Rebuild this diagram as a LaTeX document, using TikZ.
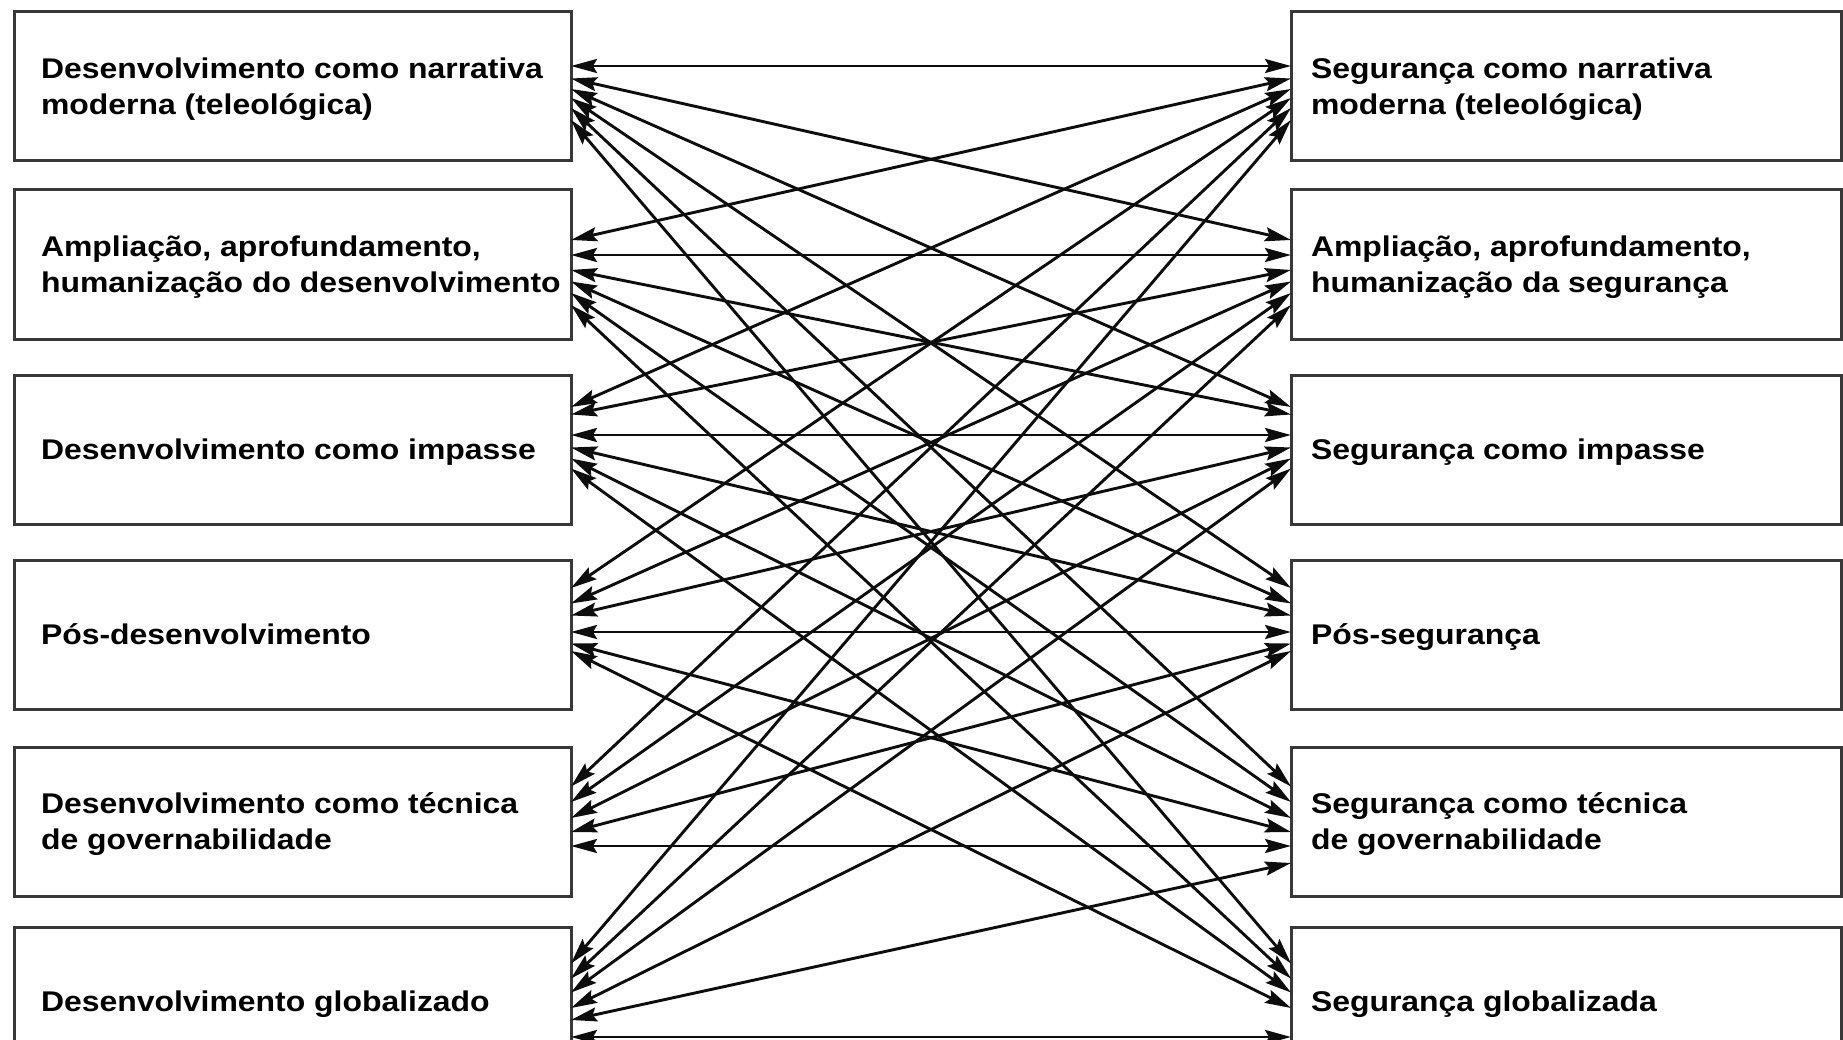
\documentclass[tikz,border=0pt]{standalone}
\usepackage{fontspec}
\setmainfont{Liberation Sans}
\usetikzlibrary{arrows.meta}
\newcommand{\boxtxt}[1]{\raisebox{-3pt}[\height][\depth]{\scalebox{1.12}[1]{\begin{tabular}{@{}l@{}}#1\end{tabular}}}}
\newcommand{\lt}[1]{\makebox[503pt][l]{\boxtxt{#1}}}
\newcommand{\rt}[1]{\makebox[510pt][l]{\boxtxt{#1}}}
\begin{document}
\begin{tikzpicture}[x=1pt,y=-1pt,
  boxbase/.style={draw=black!78, line width=3pt, rectangle, outer sep=0pt, inner ysep=0pt,
    minimum height=149pt, anchor=north west, font=\fontsize{28.5}{36}\selectfont\bfseries},
  lbox/.style={boxbase, inner xsep=27pt, minimum width=557pt},
  rbox/.style={boxbase, inner xsep=20pt, minimum width=550pt},
  conn/.style={line width=2.9pt, black!95,
    {Stealth[length=26pt,width=14pt,inset=4pt]}-{Stealth[length=26pt,width=14pt,inset=4pt]}}]
\useasboundingbox (0,0) rectangle (1843,1040);
\clip (0,0) rectangle (1843,1040);
% left column
\node[lbox] (L1) at (14,12)  {\lt{Desenvolvimento como narrativa\\moderna (teleológica)}};
\node[lbox] (L2) at (14,190) {\lt{Ampliação, aprofundamento,\\humanização do desenvolvimento}};
\node[lbox] (L3) at (14,375) {\lt{Desenvolvimento como impasse}};
\node[lbox] (L4) at (14,560) {\lt{Pós-desenvolvimento}};
\node[lbox] (L5) at (14,747) {\lt{Desenvolvimento como técnica\\de governabilidade}};
\node[lbox] (L6) at (14,927) {\lt{Desenvolvimento globalizado}};
% right column
\node[rbox] (R1) at (1291,12)  {\rt{Segurança como narrativa\\moderna (teleológica)}};
\node[rbox] (R2) at (1291,190) {\rt{Ampliação, aprofundamento,\\humanização da segurança}};
\node[rbox] (R3) at (1291,375) {\rt{Segurança como impasse}};
\node[rbox] (R4) at (1291,560) {\rt{Pós-segurança}};
\node[rbox] (R5) at (1291,747) {\rt{Segurança como técnica\\de governabilidade}};
\node[rbox] (R6) at (1291,927) {\rt{Segurança globalizada}};
% connectors: i/j/offset on Li/offset on Rj
\foreach \i/\j/\a/\b in {
  1/1/54/54, 1/2/66.5/50, 1/3/77/32, 1/4/86/28, 1/5/96/39.5, 1/6/108/36.5,
  2/1/50/66.5, 2/2/65/65, 2/3/80/39.5, 2/4/91.5/43.5, 2/5/103/55, 2/6/115/51.5,
  3/1/32/77, 3/2/39.5/80, 3/3/60/60, 3/4/72.5/55.5, 3/5/83.5/71, 3/6/93.5/65.5,
  4/1/28/86, 4/2/43.5/91.5, 4/3/55.5/72.5, 4/4/72/72, 4/5/83.5/85, 4/6/91/81,
  5/1/39.5/96, 5/2/55/103, 5/3/71/83.5, 5/4/85/83.5, 5/5/99/99,
  6/1/36.5/108, 6/2/51.5/115, 6/3/65.5/93.5, 6/4/81/91, 6/5/93/116, 6/6/110/110}
  \draw[conn] ([yshift=-\a pt]L\i.north east) -- ([yshift=-\b pt]R\j.north west);
\end{tikzpicture}
\end{document}
